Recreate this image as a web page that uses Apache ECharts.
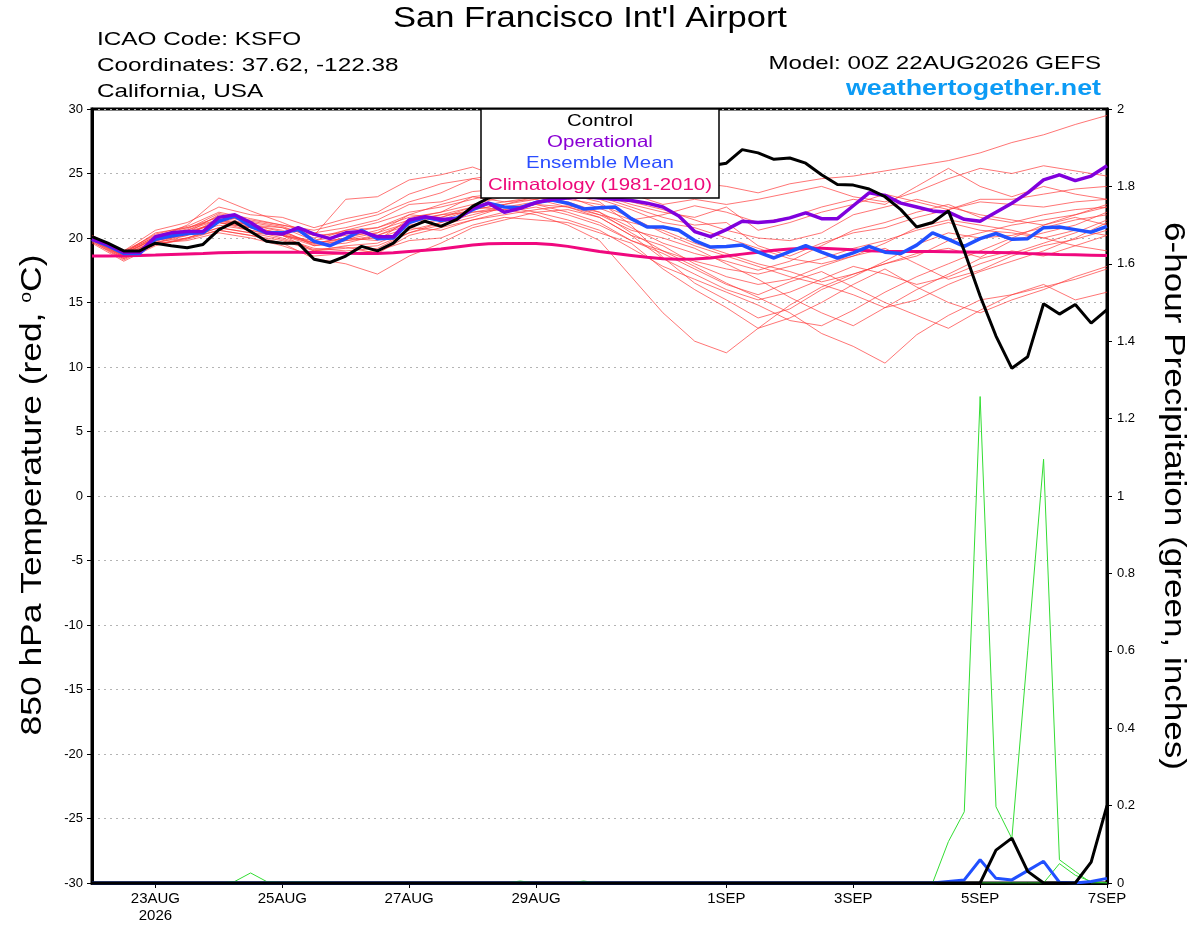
<!DOCTYPE html>
<html lang="en">
<head>
    <meta charset="UTF-8">
    <title>San Francisco Int'l Airport - GEFS 850 hPa Temperature</title>
    <script src="https://cdn.jsdelivr.net/npm/echarts@6/dist/echarts.min.js"></script>
    <style>
        html, body { margin: 0; padding: 0; background: #fff; }
        #chart { width: 1200px; height: 927px; }
    </style>
</head>
<body>
    <div id="chart"></div>
    <script>
        // forecast hours from 00Z 22AUG2026
        const stepHours = 6;
        const memberStepHours = 12;
        const xTickHours = [24, 72, 120, 168, 240, 288, 336, 384];
        const xTickLabels = ['23AUG\n2026', '25AUG', '27AUG', '29AUG', '1SEP', '3SEP', '5SEP', '7SEP'];

        // 850 hPa temperature, 6-hourly (deg C)
        const controlTemp = [
            20.1, 19.6, 19.0, 19.0, 19.6, 19.4, 19.25, 19.5, 20.65, 21.25,
            20.5, 19.75, 19.6, 19.6, 18.35, 18.1, 18.6, 19.35, 19.0, 19.6,
            20.8, 21.3, 20.9, 21.45, 22.45, 23.1, 23.6, 23.9, 24.2, 24.5,
            24.3, 24.6, 24.8, 25.0, 24.8, 25.1, 25.0, 25.3, 25.4, 25.6,
            25.8, 26.85, 26.6, 26.1, 26.2, 25.8, 24.9, 24.15, 24.1, 23.8,
            23.2, 22.2, 20.85, 21.2, 22.1, 19.0, 15.5, 12.4, 9.9, 10.8,
            14.9, 14.1, 14.85, 13.4, 14.45
        ];
        const operationalTemp = [
            19.9, 19.5, 18.9, 18.9, 20.1, 20.4, 20.5, 20.5, 21.6, 21.8,
            21.2, 20.4, 20.3, 20.8, 20.3, 19.95, 20.4, 20.5, 20.1, 20.1,
            21.4, 21.65, 21.45, 21.45, 22.3, 22.7, 22.0, 22.3, 22.75, 23.0,
            23.1, 23.2, 23.1, 23.0, 22.9, 22.7, 22.4, 21.7, 20.5, 20.1,
            20.65, 21.3, 21.2, 21.3, 21.56, 21.95, 21.5, 21.5, 22.5, 23.5,
            23.3, 22.7, 22.4, 22.1, 22.0, 21.45, 21.3, 22.0, 22.7, 23.5,
            24.5, 24.9, 24.45, 24.8, 25.6
        ];
        const ensembleMeanTemp = [
            19.9, 19.4, 18.8, 18.8, 19.9, 20.15, 20.35, 20.4, 21.3, 21.7,
            20.9, 20.4, 20.4, 20.65, 19.75, 19.4, 19.95, 20.6, 19.95, 20.0,
            21.2, 21.6, 21.35, 21.55, 22.2, 22.7, 22.4, 22.35, 22.75, 22.95,
            22.7, 22.25, 22.35, 22.4, 21.5, 20.85, 20.85, 20.6, 19.8, 19.3,
            19.35, 19.45, 18.9, 18.45, 18.95, 19.4, 18.9, 18.45, 18.85, 19.35,
            18.9, 18.8, 19.45, 20.4, 19.9, 19.35, 19.95, 20.35, 19.9, 19.95,
            20.8, 20.85, 20.65, 20.45, 20.9
        ];
        const climatologyTemp = [
            18.6, 18.6, 18.62, 18.65, 18.68, 18.72, 18.76, 18.8, 18.85, 18.88,
            18.9, 18.9, 18.9, 18.9, 18.88, 18.85, 18.82, 18.8, 18.8, 18.85,
            18.95, 19.05, 19.15, 19.3, 19.45, 19.55, 19.57, 19.57, 19.57, 19.5,
            19.35, 19.15, 18.95, 18.8, 18.65, 18.5, 18.4, 18.35, 18.38, 18.45,
            18.6, 18.75, 18.9, 19.05, 19.15, 19.2, 19.2, 19.15, 19.08, 19.02,
            18.98, 18.95, 18.95, 18.95, 18.94, 18.92, 18.9, 18.88, 18.85, 18.8,
            18.76, 18.72, 18.7, 18.67, 18.64
        ];

        // ensemble members, 12-hourly (deg C)
        const ensembleMembers = [
            [20.0, 18.9, 20.3, 20.9, 22.0, 21.5, 21.0, 20.6, 21.2, 21.8, 22.8, 23.5, 24.6, 25.0, 24.8, 24.5, 24.2, 23.6, 23.8, 24.3, 24.0, 23.5, 24.2, 24.6, 24.8, 25.2, 25.6, 26.0, 26.6, 27.4, 28.0, 28.8, 29.5],
            [20.1, 18.7, 20.0, 21.0, 23.1, 22.1, 21.2, 20.2, 23.0, 23.2, 24.5, 24.9, 25.5, 24.6, 23.8, 23.2, 22.3, 21.4, 21.8, 22.5, 22.0, 21.2, 21.6, 22.4, 23.0, 22.6, 24.0, 25.4, 24.0, 23.2, 24.0, 23.4, 23.0],
            [19.8, 18.5, 19.6, 20.2, 21.5, 21.0, 20.5, 19.6, 20.0, 19.8, 21.5, 22.0, 23.2, 23.5, 24.0, 23.4, 22.8, 21.0, 18.5, 16.5, 15.2, 13.8, 14.5, 16.0, 17.0, 18.2, 19.5, 20.4, 20.0, 20.2, 20.8, 21.4, 21.8],
            [19.9, 18.6, 19.8, 20.4, 21.8, 21.2, 20.8, 19.8, 20.2, 20.4, 21.8, 21.6, 22.4, 22.2, 21.8, 21.0, 19.8, 17.0, 14.2, 12.0, 11.1, 13.0, 14.8, 16.2, 17.2, 18.0, 18.8, 19.2, 18.5, 19.8, 20.4, 21.0, 22.0],
            [19.7, 18.4, 19.5, 20.0, 20.8, 20.4, 19.9, 19.1, 19.3, 18.8, 20.2, 20.8, 21.4, 21.8, 22.2, 22.5, 22.0, 20.4, 19.0, 17.8, 16.5, 15.4, 14.2, 12.6, 11.6, 10.3, 12.5, 14.0, 15.2, 15.6, 16.2, 16.8, 17.6],
            [20.2, 19.0, 20.6, 21.2, 22.4, 21.8, 21.6, 20.8, 21.5, 22.0, 23.4, 24.2, 24.6, 24.2, 24.8, 24.4, 24.0, 23.4, 22.6, 23.0, 22.6, 23.0, 23.5, 24.0, 23.2, 22.8, 23.6, 24.6, 25.4, 25.0, 25.6, 25.2, 24.8],
            [19.9, 18.8, 19.9, 20.6, 21.7, 21.0, 20.6, 19.4, 19.6, 20.2, 21.0, 21.4, 22.2, 22.6, 23.2, 22.8, 22.0, 20.8, 19.6, 18.8, 18.2, 17.5, 18.2, 19.4, 20.6, 21.2, 22.0, 22.6, 21.6, 21.2, 21.8, 22.2, 22.4],
            [19.6, 18.2, 19.4, 20.0, 20.6, 20.2, 19.6, 18.4, 18.0, 17.2, 18.6, 19.6, 20.8, 21.4, 22.0, 22.2, 21.6, 20.2, 19.4, 18.0, 17.0, 16.4, 16.8, 17.8, 18.6, 19.2, 18.0, 16.8, 17.5, 18.6, 19.4, 19.9, 20.6],
            [20.0, 18.9, 20.1, 20.5, 21.2, 20.8, 20.2, 19.8, 20.6, 21.2, 22.0, 22.4, 23.0, 23.6, 23.2, 22.6, 21.8, 20.6, 20.0, 19.2, 18.0, 16.8, 15.4, 14.2, 13.2, 14.6, 16.0, 17.2, 18.4, 19.0, 18.6, 19.4, 20.2],
            [20.0, 18.6, 19.8, 20.2, 21.0, 20.6, 20.0, 19.2, 19.0, 19.2, 20.4, 21.0, 21.6, 22.4, 22.8, 23.4, 23.2, 22.4, 21.6, 21.0, 21.2, 19.4, 18.6, 19.6, 20.4, 20.8, 21.6, 22.2, 22.8, 22.6, 22.4, 22.8, 23.0],
            [19.8, 18.4, 19.6, 19.8, 20.4, 20.0, 19.4, 18.6, 18.8, 19.0, 19.8, 20.0, 21.0, 21.6, 21.4, 21.2, 20.4, 19.6, 17.6, 16.0, 14.6, 13.0, 13.8, 15.0, 16.4, 17.6, 16.2, 15.0, 14.2, 15.2, 16.0, 17.0, 17.8],
            [20.1, 19.0, 20.2, 20.8, 21.4, 21.0, 20.8, 20.2, 20.4, 20.8, 21.6, 22.0, 22.6, 23.2, 23.6, 24.0, 23.6, 22.8, 22.2, 21.4, 20.6, 20.0, 19.8, 20.4, 21.8, 22.4, 23.0, 22.4, 21.8, 21.4, 21.0, 21.6, 21.0],
            [19.9, 18.5, 19.7, 20.0, 20.8, 20.4, 20.2, 19.4, 19.8, 20.0, 20.8, 20.6, 21.4, 22.0, 22.4, 21.8, 21.0, 19.8, 18.8, 17.6, 16.4, 15.6, 16.6, 17.4, 16.2, 15.0, 14.0, 13.0, 14.4, 15.6, 16.4, 15.2, 15.8],
            [20.2, 18.8, 20.4, 20.8, 21.6, 21.4, 21.0, 20.4, 20.8, 21.4, 22.6, 22.8, 23.6, 23.8, 24.4, 24.0, 23.4, 22.6, 22.0, 21.6, 22.4, 20.6, 21.2, 22.0, 22.6, 23.4, 22.8, 22.2, 23.0, 23.0, 23.4, 23.8, 24.0],
            [19.8, 18.6, 19.6, 20.4, 21.2, 20.8, 20.2, 19.0, 19.4, 19.6, 20.6, 21.2, 22.0, 22.2, 22.6, 22.4, 21.8, 21.2, 20.6, 19.6, 18.8, 18.0, 17.4, 16.6, 17.2, 18.0, 18.6, 19.8, 20.4, 21.0, 21.4, 21.8, 22.4],
            [20.0, 18.8, 20.0, 20.6, 21.4, 20.8, 20.4, 19.6, 20.0, 20.6, 21.4, 21.8, 22.4, 22.8, 23.2, 23.0, 22.6, 21.6, 20.4, 19.4, 18.6, 17.8, 17.0, 16.4, 15.6, 14.6, 15.2, 16.4, 17.4, 18.2, 19.0, 20.0, 21.2],
            [19.7, 18.3, 19.5, 19.9, 20.6, 20.2, 19.8, 19.0, 19.2, 19.4, 20.4, 21.2, 21.8, 22.4, 22.0, 21.4, 20.6, 19.2, 17.8, 16.8, 15.8, 14.8, 13.6, 13.2, 14.4, 15.8, 17.0, 18.0, 19.0, 20.0, 21.0, 21.8, 22.6],
            [20.1, 18.9, 20.1, 20.7, 21.9, 21.3, 20.9, 20.0, 20.6, 20.8, 21.8, 22.6, 23.2, 22.8, 23.0, 23.6, 23.0, 22.2, 21.2, 20.8, 20.0, 19.2, 18.4, 18.0, 18.6, 19.6, 20.8, 21.4, 21.0, 20.6, 20.0, 19.4, 19.0],
            [19.9, 18.7, 19.8, 20.3, 21.3, 20.9, 20.3, 19.5, 19.8, 20.2, 21.2, 21.6, 22.2, 22.6, 23.0, 22.4, 21.6, 20.2, 18.4, 17.2, 16.0, 15.2, 15.8, 16.8, 17.8, 17.2, 16.4, 17.0, 18.0, 18.8, 19.6, 20.4, 21.4],
            [20.0, 18.8, 20.0, 20.4, 21.2, 20.6, 20.2, 19.6, 19.9, 20.4, 21.2, 21.8, 22.0, 22.4, 22.6, 22.0, 21.2, 19.8, 19.0, 18.2, 17.6, 17.2, 17.8, 18.4, 19.2, 19.8, 20.6, 21.2, 20.6, 20.4, 20.0, 20.6, 20.2]
        ];

        // 6-hour precipitation, 6-hourly (inches)
        const controlPrecip = [
            0, 0, 0, 0, 0, 0, 0, 0, 0, 0,
            0, 0, 0, 0, 0, 0, 0, 0, 0, 0,
            0, 0, 0, 0, 0, 0, 0, 0, 0, 0,
            0, 0, 0, 0, 0, 0, 0, 0, 0, 0,
            0, 0, 0, 0, 0, 0, 0, 0, 0, 0,
            0, 0, 0, 0, 0, 0, 0, 0.085, 0.116, 0.03,
            0, 0, 0, 0.054, 0.2
        ];
        const ensembleMeanPrecip = [
            0, 0, 0, 0, 0, 0, 0, 0, 0, 0,
            0, 0, 0, 0, 0, 0, 0, 0, 0, 0,
            0, 0, 0, 0, 0, 0, 0, 0, 0, 0,
            0, 0, 0, 0, 0, 0, 0, 0, 0, 0,
            0, 0, 0, 0, 0, 0, 0, 0, 0, 0,
            0, 0, 0, 0, 0.004, 0.008, 0.06, 0.012, 0.008, 0.032,
            0.056, 0.002, 0, 0.004, 0.012
        ];
        const memberPrecipA = [
            0, 0, 0, 0, 0, 0, 0, 0, 0, 0,
            0, 0, 0, 0, 0, 0, 0, 0, 0, 0,
            0, 0, 0, 0, 0, 0, 0, 0, 0, 0,
            0, 0, 0, 0, 0, 0, 0, 0, 0, 0,
            0, 0, 0, 0, 0, 0, 0, 0, 0, 0,
            0, 0, 0, 0, 0.107, 0.184, 1.257, 0.197, 0.115, 0.6,
            1.095, 0.06, 0.03, 0, 0
        ];
        const memberPrecipB = [
            0, 0, 0, 0, 0, 0, 0, 0, 0, 0.004,
            0.026, 0.004, 0.002, 0.003, 0.002, 0.002, 0, 0, 0, 0,
            0, 0, 0, 0, 0, 0, 0, 0.005, 0, 0,
            0, 0.005, 0, 0, 0, 0, 0, 0, 0, 0,
            0, 0, 0, 0, 0, 0, 0, 0, 0, 0,
            0, 0, 0, 0, 0, 0, 0, 0, 0, 0,
            0, 0.05, 0.02, 0.004, 0
        ];

        const FONT = "'Liberation Sans', Arial, Helvetica, sans-serif";
        // the original plot uses a wide-set Helvetica; stretch text horizontally to match
        const WIDE = 1.25;
        const toPairs = (arr, step) => arr.map((v, i) => [i * step, v]);

        const chart = echarts.init(document.getElementById('chart'));

        const lineSeries = (name, data, color, width, yIndex, z) => ({
            name: name,
            type: 'line',
            data: data,
            yAxisIndex: yIndex,
            showSymbol: false,
            symbol: 'none',
            silent: true,
            z: z,
            lineStyle: { color: color, width: width },
            emphasis: { disabled: true }
        });

        const series = [];
        ensembleMembers.forEach((m, k) => {
            const s = lineSeries('Member ' + (k + 1), toPairs(m, memberStepHours), '#ff3a3a', 1, 0, 2);
            s.lineStyle.opacity = 0.7;
            series.push(s);
        });
        series.push(lineSeries('Precip A', toPairs(memberPrecipA, stepHours), '#33dd33', 1, 1, 3));
        series.push(lineSeries('Precip B', toPairs(memberPrecipB, stepHours), '#33dd33', 1, 1, 3));
        series.push(lineSeries('Climatology', toPairs(climatologyTemp, stepHours), '#f0087e', 3, 0, 4));
        series.push(lineSeries('Ensemble Mean', toPairs(ensembleMeanTemp, stepHours), '#2150ff', 3.5, 0, 5));
        series.push(lineSeries('Operational', toPairs(operationalTemp, stepHours), '#8000dd', 3.5, 0, 6));
        series.push(lineSeries('Control', toPairs(controlTemp, stepHours), '#000000', 3, 0, 7));
        series.push(lineSeries('Mean Precip', toPairs(ensembleMeanPrecip, stepHours), '#2150ff', 3, 1, 8));
        series.push(lineSeries('Control Precip', toPairs(controlPrecip, stepHours), '#000000', 3, 1, 9));

        // header / legend text helper
        const label = (text, x, y, size, color, align, extra) => Object.assign({
            type: 'text', x: x, y: y, z: 101, scaleX: WIDE,
            style: { text: text, fontSize: size, fontFamily: FONT, fill: color, align: align, verticalAlign: 'middle' }
        }, extra || {});

        const option = {
            animation: false,
            backgroundColor: '#ffffff',
            textStyle: { fontFamily: FONT },
            grid: {
                left: 92, right: 93, top: 109, bottom: 44,
                show: true, borderColor: '#000', borderWidth: 3, backgroundColor: 'transparent'
            },
            xAxis: {
                type: 'value',
                min: 0,
                max: 384,
                axisLine: { show: true, onZero: false, lineStyle: { color: '#000', width: 3 } },
                axisTick: { show: true, customValues: xTickHours, length: 5, lineStyle: { color: '#000', width: 1 } },
                axisLabel: {
                    customValues: xTickHours,
                    formatter: v => {
                        const k = xTickHours.indexOf(v);
                        return k >= 0 ? xTickLabels[k] : '';
                    },
                    color: '#000', fontSize: 15, lineHeight: 17, margin: 7, fontFamily: FONT
                },
                splitLine: { show: false }
            },
            yAxis: [
                {
                    type: 'value',
                    position: 'left',
                    min: -30, max: 30, interval: 5,
                    axisLine: { show: true, onZero: false, lineStyle: { color: '#000', width: 3 } },
                    axisTick: { show: true, length: 5, lineStyle: { color: '#000', width: 1 } },
                    axisLabel: { color: '#000', fontSize: 13, margin: 9, fontFamily: FONT },
                    splitLine: { show: true, lineStyle: { color: '#b4b4b4', type: [2, 4], width: 1 } }
                },
                {
                    type: 'value',
                    position: 'right',
                    min: 0, max: 2, interval: 0.2,
                    axisLine: { show: true, onZero: false, lineStyle: { color: '#000', width: 3 } },
                    axisTick: { show: true, length: 5, lineStyle: { color: '#000', width: 1 } },
                    axisLabel: {
                        color: '#000', fontSize: 13, margin: 10, fontFamily: FONT,
                        formatter: v => String(Math.round(v * 10) / 10)
                    },
                    splitLine: { show: false }
                }
            ],
            graphic: [
                label("San Francisco Int'l Airport", 590, 19, 30, '#000', 'center', { scaleX: 1.15 }),
                label('ICAO Code: KSFO', 97, 40, 19, '#000', 'left', { scaleX: 1.28 }),
                label('Coordinates: 37.62, -122.38', 97, 66, 19, '#000', 'left', { scaleX: 1.28 }),
                label('California, USA', 97, 92, 19, '#000', 'left', { scaleX: 1.28 }),
                label('Model: 00Z 22AUG2026 GEFS', 1101, 64, 19, '#000', 'right', { scaleX: 1.27 }),
                {
                    type: 'text', x: 1101, y: 89, z: 101, scaleX: 1.22,
                    style: { text: 'weathertogether.net', fontSize: 22, fontWeight: 'bold', fontFamily: FONT, fill: '#0c9bf5', align: 'right', verticalAlign: 'middle' }
                },
                {
                    type: 'rect', z: 100,
                    shape: { x: 481, y: 109, width: 238, height: 89 },
                    style: { fill: '#fff', stroke: '#000', lineWidth: 1.5 }
                },
                label('Control', 600, 121, 16.5, '#000', 'center', { scaleX: 1.24 }),
                label('Operational', 600, 142, 16.5, '#8a00d4', 'center', { scaleX: 1.24 }),
                label('Ensemble Mean', 600, 163.5, 16.5, '#2a4dff', 'center', { scaleX: 1.24 }),
                label('Climatology (1981-2010)', 600, 185, 16.5, '#ee0a7a', 'center', { scaleX: 1.24 }),
                // axis titles
                {
                    type: 'text', x: 33, y: 495, z: 101, rotation: Math.PI / 2, scaleX: 1.22,
                    style: {
                        text: '850 hPa Temperature (red, {sup|o}C)',
                        fontSize: 29, fontFamily: FONT, fill: '#000', align: 'center', verticalAlign: 'middle',
                        rich: { sup: { fontSize: 16, verticalAlign: 'top', fontFamily: FONT, fill: '#000' } }
                    }
                },
                {
                    type: 'text', x: 1173, y: 496, z: 101, rotation: -Math.PI / 2, scaleX: 1.21,
                    style: {
                        text: '6-hour Precipitation (green, inches)',
                        fontSize: 29, fontFamily: FONT, fill: '#000', align: 'center', verticalAlign: 'middle'
                    }
                }
            ],
            series: series
        };

        chart.setOption(option);
    </script>
</body>
</html>
